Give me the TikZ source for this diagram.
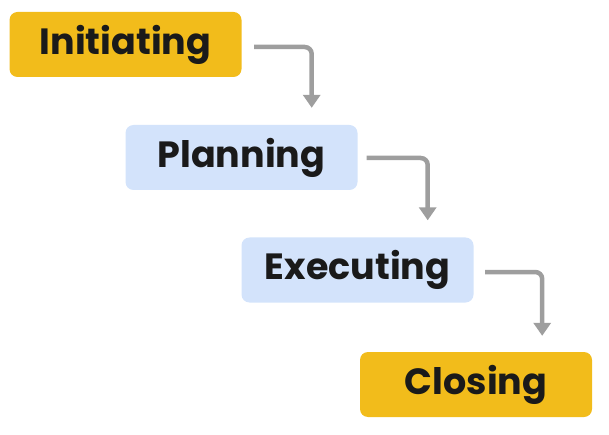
\documentclass[tikz,border=0pt]{standalone}
\usepackage{fontspec}
\setmainfont{Poppins}
\usetikzlibrary{arrows.meta,calc}
\definecolor{gyellow}{HTML}{F2BC1B}
\definecolor{gblue}{HTML}{D3E3FB}
\definecolor{garrow}{HTML}{9E9E9E}
\definecolor{gtext}{HTML}{1A1A1A}
\tikzset{
  stage/.style={rounded corners=8pt, minimum width=232pt, minimum height=65pt, inner sep=0pt, text=gtext, font=\fontsize{36.5}{40}\selectfont\bfseries},
  ystage/.style={stage, fill=gyellow},
  bstage/.style={stage, fill=gblue},
  arr/.style={draw=garrow, line width=4.5pt, rounded corners=7pt, -{Triangle[width=17pt,length=13pt]}}
}
\begin{document}
\begin{tikzpicture}[x=1pt,y=-1pt]
\useasboundingbox (0,0) rectangle (609,435);
\node[ystage] (init) at (125.5,44.5) {Initiating};
\node[bstage] (plan) at (241.5,157.5) {Planning};
\node[bstage] (exec) at (357.5,270) {Executing};
\node[ystage] (close) at (476,384.5) {Closing};
\coordinate (s1) at ($(init.east)+(12.5,2.5)$);
\coordinate (e1) at ($(plan.north east)+(-46,-17)$);
\coordinate (s2) at ($(plan.east)+(9,0.5)$);
\coordinate (e2) at ($(exec.north east)+(-46,-17)$);
\coordinate (s3) at ($(exec.east)+(11.5,2)$);
\coordinate (e3) at ($(close.north east)+(-50,-16)$);
\draw[arr] (s1) -| (e1);
\draw[arr] (s2) -| (e2);
\draw[arr] (s3) -| (e3);
\end{tikzpicture}
\end{document}
